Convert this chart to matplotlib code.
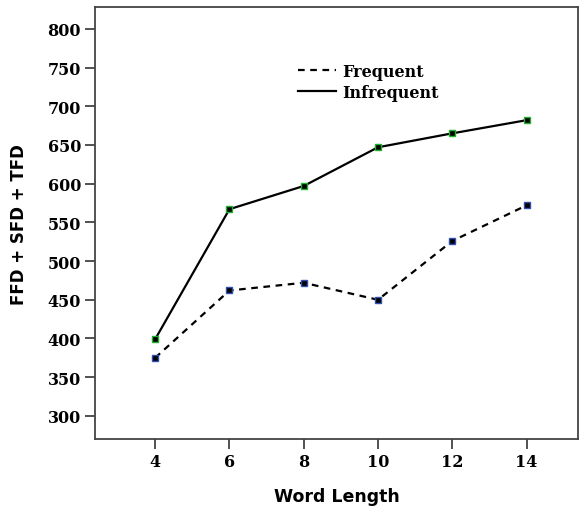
import numpy as np
import matplotlib
matplotlib.use("Agg")
import matplotlib.pyplot as plt
from matplotlib.lines import Line2D

# data
word_length = [4, 6, 8, 10, 12, 14]
frequent = [375, 462, 472, 450, 526, 572]
infrequent = [399, 567, 597, 647, 665, 682]
yticks = [300, 350, 400, 450, 500, 550, 600, 650, 700, 750, 800]

fig = plt.figure(figsize=(5.79, 5.10), dpi=100)
ax = fig.add_axes([0.164, 0.137, 0.834, 0.847])

ax.plot(word_length, frequent, color="black", lw=1.6, ls=(0, (3, 2.5)),
        marker="s", ms=5, mfc="black", mec="#3050b0", mew=1.0)
ax.plot(word_length, infrequent, color="black", lw=1.6, ls="-",
        marker="s", ms=5, mfc="black", mec="#20b030", mew=1.0)

ax.set_xlim(2.38, 15.38)
ax.set_ylim(270, 828)
ax.set_xticks(word_length)
ax.set_yticks(yticks)

for lab in ax.get_xticklabels() + ax.get_yticklabels():
    lab.set_family("DejaVu Serif")
    lab.set_fontweight("bold")
    lab.set_fontsize(11.5)
ax.tick_params(length=7, width=1.2, color="#333333", pad=3)

for s in ax.spines.values():
    s.set_linewidth(1.3)
    s.set_color("#444444")

ax.set_xlabel("Word Length", fontsize=12.5, fontweight="bold",
              family="DejaVu Sans", labelpad=12)
ax.set_ylabel("FFD + SFD + TFD", fontsize=12, fontweight="bold",
              family="DejaVu Sans", labelpad=14)

handles = [Line2D([], [], color="black", lw=1.6, ls=(0, (3, 2.5))),
           Line2D([], [], color="black", lw=1.6)]
leg = ax.legend(handles, ["Frequent", "Infrequent"], loc="upper left",
                bbox_to_anchor=(0.39, 0.905), frameon=False, handlelength=2.4,
                handletextpad=0.4, labelspacing=0.25,
                prop={"family": "DejaVu Serif", "weight": "bold", "size": 11.5})

fig.savefig("out.png", dpi=100)
